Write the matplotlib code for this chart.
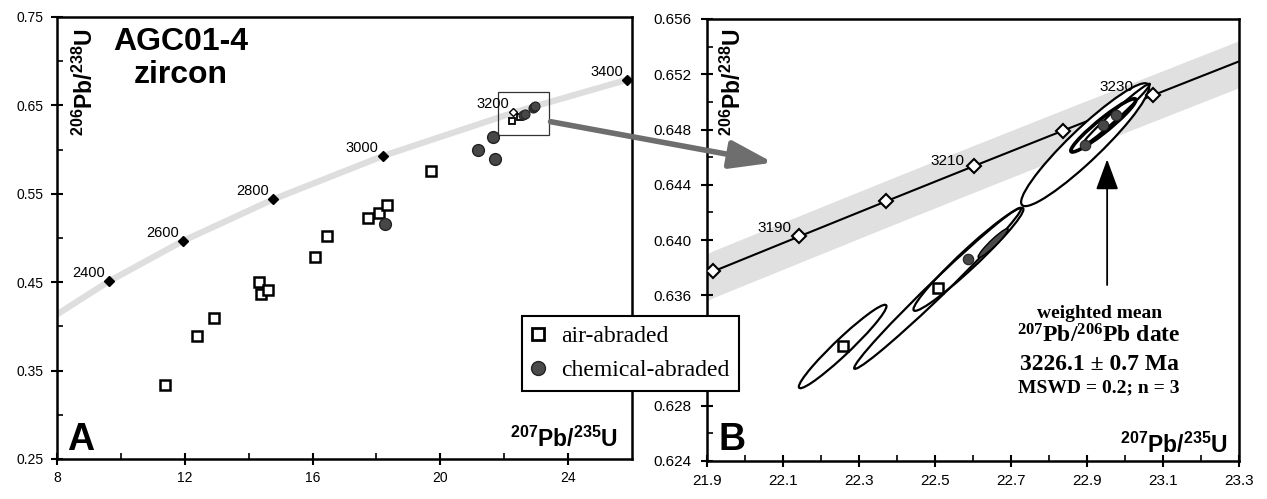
import numpy as np
import matplotlib
matplotlib.use('Agg')
import matplotlib.pyplot as plt
from matplotlib.patches import Ellipse, Rectangle, ConnectionPatch
from matplotlib.lines import Line2D

plt.rcParams['font.family'] = ['Liberation Sans', 'DejaVu Sans']
plt.rcParams['mathtext.fontset'] = 'custom'
plt.rcParams['mathtext.rm'] = 'Liberation Serif:bold'
plt.rcParams['mathtext.bf'] = 'Liberation Sans:bold'
plt.rcParams['mathtext.sf'] = 'Liberation Sans:bold'
plt.rcParams['mathtext.it'] = 'Liberation Serif:bold:italic'

# ---------------- data: panel A ----------------
concA_band_x = [8.0, 9.63, 11.95, 14.76, 18.19, 22.37, 26.0]
concA_band_y = [0.4136, 0.4511, 0.4968, 0.5436, 0.5926, 0.6428, 0.6806]
concA_ages = [2400, 2600, 2800, 3000, 3200, 3400]
concA_x = [9.63, 11.95, 14.76, 18.19, 22.29, 25.85]
concA_y = [0.4511, 0.4968, 0.5436, 0.5926, 0.6420, 0.679]

airA_x = [11.39, 12.38, 12.93, 14.31, 14.40, 14.62, 16.09, 16.45, 17.74, 18.07, 18.34, 19.72]
airA_y = [0.3337, 0.389, 0.4095, 0.450, 0.4363, 0.4412, 0.4789, 0.5023, 0.5223, 0.5286, 0.5373, 0.5761]
chemA_x = [18.28, 21.19, 21.66, 21.70]
chemA_y = [0.5158, 0.5995, 0.6143, 0.589]

zoom_box_x = [21.8, 23.4]
zoom_box_y = [0.616, 0.665]

# ---------------- data: panel B ----------------
concB_ages = [3180, 3190, 3200, 3210, 3220, 3230]
concB_x = [21.916, 22.143, 22.372, 22.603, 22.837, 23.073]
concB_y = [0.63772, 0.64026, 0.64281, 0.64536, 0.64792, 0.65047]
concB_end_x = [21.9, 23.3]
concB_end_y = [0.63749, 0.65293]
concB_labelled = [3190, 3210, 3230]

airB_x = [22.257, 22.507]
airB_y = [0.63229, 0.63650]
airB_hx = [0.1153, 0.2197]
airB_hy = [0.00302, 0.00583]
airB_rho = [0.965, 0.990]

chemB_x = [22.588, 22.653, 22.895, 22.943, 22.976]
chemB_y = [0.63860, 0.63978, 0.64690, 0.64830, 0.64907]
chemB_hx = [0.1447, 0.0395, 0.1684, 0.0855, 0.0895]
chemB_hy = [0.00373, 0.00105, 0.00445, 0.00193, 0.00224]
chemB_rho = [0.970, 0.950, 0.935, 0.950, 0.985]

mean_date_lines = ['weighted mean', r'${}^{207}\mathrm{Pb/}{}^{206}\mathrm{Pb\ date}$',
                   '3226.1 ± 0.7 Ma', 'MSWD = 0.2; n = 3']

arrow_from_A = (23.45, 0.6316)
arrow_to_B = (22.074, 0.6456)
mean_arrow_x = 22.953
mean_arrow_y = [0.63674, 0.64584]

# ---------------- figure ----------------
W, H = 1267, 499
fig = plt.figure(figsize=(W / 100, H / 100), dpi=100)
axA = fig.add_axes([57 / W, 40 / H, 575 / W, 442 / H])
axB = fig.add_axes([707 / W, 38 / H, 532 / W, 442 / H])

for ax in (axA, axB):
    for s in ax.spines.values():
        s.set_linewidth(1.8)
        s.set_color('black')

# ----- panel A -----
axA.set_xlim(8, 26)
axA.set_ylim(0.25, 0.75)
axA.set_xticks([8, 12, 16, 20, 24])
axA.set_xticks([10, 14, 18, 22], minor=True)
axA.set_yticks([0.25, 0.35, 0.45, 0.55, 0.65, 0.75])
axA.set_yticks([0.30, 0.40, 0.50, 0.60, 0.70], minor=True)
axA.yaxis.set_major_formatter('{x:.2f}')
axA.xaxis.set_major_formatter('{x:.0f}')
axA.tick_params(which='major', direction='inout', length=9, width=1.5, labelsize=10)
axA.tick_params(axis='y', which='major', pad=5.2)
axA.tick_params(axis='x', which='major', pad=4.5)
axA.tick_params(which='minor', direction='in', length=4, width=1.2)

axA.plot(concA_band_x, concA_band_y, color='#dedede', lw=4.5, solid_capstyle='butt', zorder=1)
for age, x, y in zip(concA_ages, concA_x, concA_y):
    if age == 3200:
        axA.plot([x], [y], 'D', ms=4.5, mfc='white', mec='black', mew=1.0, zorder=4)
    else:
        axA.plot([x], [y], 'D', ms=5, color='black', zorder=4)
    axA.annotate(str(age), (x, y), xytext=(-3, 3), textcoords='offset points',
                 ha='right', va='baseline', fontsize=10.5)

axA.plot(airA_x, airA_y, 's', ls='none', ms=7.5, mfc='white', mec='black', mew=1.8, zorder=3)
axA.plot(chemA_x, chemA_y, 'o', ls='none', ms=8.5, mfc='#474747', mec='#222222', mew=1.0, zorder=3)
axA.plot(airB_x, airB_y, 's', ls='none', ms=5, mfc='white', mec='black', mew=1.3, zorder=3)
axA.plot(chemB_x, chemB_y, 'o', ls='none', ms=6.5, mfc='#474747', mec='#222222', mew=0.8, zorder=3)
axA.add_patch(Rectangle((zoom_box_x[0], zoom_box_y[0]), zoom_box_x[1] - zoom_box_x[0],
                        zoom_box_y[1] - zoom_box_y[0], fill=False, lw=0.9, ec='#333333', zorder=2))

axA.text(0.2157, 0.925, 'AGC01-4', transform=axA.transAxes, ha='center', va='baseline',
         fontsize=23, fontweight='bold')
axA.text(0.2157, 0.851, 'zircon', transform=axA.transAxes, ha='center', va='baseline',
         fontsize=23, fontweight='bold')
axA.text(0.049, 0.975, r'$\mathbf{{}^{206}Pb/{}^{238}U}$', transform=axA.transAxes,
         rotation=90, ha='center', va='top', fontsize=16.5)
axA.text(0.976, 0.027, r'$\mathbf{{}^{207}Pb/{}^{235}U}$', transform=axA.transAxes,
         ha='right', va='baseline', fontsize=16.5)
axA.text(0.017, 0.02, 'A', transform=axA.transAxes, ha='left', va='baseline',
         fontsize=27, fontweight='bold')

# ----- panel B -----
axB.set_xlim(21.9, 23.3)
axB.set_ylim(0.624, 0.656)
axB.set_xticks(np.round(np.arange(21.9, 23.31, 0.2), 1))
axB.set_xticks(np.round(np.arange(22.0, 23.3, 0.2), 1), minor=True)
axB.set_yticks(np.round(np.arange(0.624, 0.6561, 0.004), 3))
axB.set_yticks(np.round(np.arange(0.626, 0.656, 0.004), 3), minor=True)
axB.yaxis.set_major_formatter('{x:.3f}')
axB.xaxis.set_major_formatter('{x:.1f}')
axB.tick_params(which='major', direction='inout', length=9, width=1.5, labelsize=11)
axB.tick_params(axis='y', which='major', pad=6.5)
axB.tick_params(axis='x', which='major', pad=5.2)
axB.tick_params(which='minor', direction='in', length=4, width=1.2)

line_x = [concB_end_x[0]] + concB_x + [concB_end_x[1]]
line_y = [concB_end_y[0]] + concB_y + [concB_end_y[1]]
axB.fill_between(line_x, np.array(line_y) - 0.0019, np.array(line_y) + 0.0015,
                 color='#e0e0e0', lw=0, zorder=0)
axB.plot(line_x, line_y, color='black', lw=1.5, zorder=1)


def ellipse(ax, cx, cy, hx, hy, rho, **kw):
    cov = np.array([[hx * hx, rho * hx * hy], [rho * hx * hy, hy * hy]])
    vals, vecs = np.linalg.eigh(cov)
    order = vals.argsort()[::-1]
    vals, vecs = vals[order], vecs[:, order]
    ang = np.degrees(np.arctan2(vecs[1, 0], vecs[0, 0]))
    e = Ellipse((cx, cy), 2 * np.sqrt(vals[0]), 2 * np.sqrt(vals[1]), angle=ang, **kw)
    ax.add_patch(e)
    return e


all_ell = list(zip(airB_x, airB_y, airB_hx, airB_hy, airB_rho)) + \
    list(zip(chemB_x, chemB_y, chemB_hx, chemB_hy, chemB_rho))
# white fills first, then outlines
for cx, cy, hx, hy, r in all_ell:
    ellipse(axB, cx, cy, hx, hy, r, fc='white', ec='none', zorder=3)
for i, (cx, cy, hx, hy, r) in enumerate(all_ell):
    if i == 3:  # small dark-filled chemical ellipse
        ellipse(axB, cx, cy, hx, hy, r, fc='#4a4a4a', ec='black', lw=1.0, zorder=4.5)
    elif i == 5:  # bold inner ellipse
        ellipse(axB, cx, cy, hx, hy, r, fc='none', ec='black', lw=2.6, zorder=4.4)
    else:
        ellipse(axB, cx, cy, hx, hy, r, fc='none', ec='black', lw=1.6, zorder=4)

axB.plot(concB_x, concB_y, 'D', ls='none', ms=7, mfc='white', mec='black', mew=1.5, zorder=4.2)
label_offsets = {3190: (-6, 3), 3210: (-7, 1), 3230: (-14, 3)}
for age, x, y in zip(concB_ages, concB_x, concB_y):
    if age in concB_labelled:
        axB.annotate(str(age), (x, y), xytext=label_offsets[age], textcoords='offset points',
                     ha='right', va='baseline', fontsize=11, zorder=5)

axB.plot(airB_x, airB_y, 's', ls='none', ms=7, mfc='white', mec='black', mew=1.8, zorder=5)
axB.plot([chemB_x[0]] + chemB_x[2:], [chemB_y[0]] + chemB_y[2:], 'o', ls='none', ms=7.5,
         mfc='#474747', mec='#222222', mew=0.8, zorder=5)

axB.annotate('', xy=(mean_arrow_x, mean_arrow_y[1]), xytext=(mean_arrow_x, mean_arrow_y[0]),
             arrowprops=dict(arrowstyle='-|>,head_length=1.9,head_width=0.7', lw=1.3,
                             color='black', mutation_scale=10, shrinkA=0, shrinkB=0),
             zorder=5)

fx = 0.737
axB.text(fx, 0.3235, mean_date_lines[0], transform=axB.transAxes, ha='center', va='baseline',
         fontsize=14, fontweight='bold', family='Liberation Serif')
axB.text(fx, 0.269, mean_date_lines[1], transform=axB.transAxes, ha='center', va='baseline',
         fontsize=17)
axB.text(fx, 0.206, mean_date_lines[2], transform=axB.transAxes, ha='center', va='baseline',
         fontsize=17, fontweight='bold', family='Liberation Serif')
axB.text(fx, 0.156, mean_date_lines[3], transform=axB.transAxes, ha='center', va='baseline',
         fontsize=14, fontweight='bold', family='Liberation Serif')

axB.text(0.049, 0.98, r'$\mathbf{{}^{206}Pb/{}^{238}U}$', transform=axB.transAxes,
         rotation=90, ha='center', va='top', fontsize=16.5)
axB.text(0.979, 0.018, r'$\mathbf{{}^{207}Pb/{}^{235}U}$', transform=axB.transAxes,
         ha='right', va='baseline', fontsize=16.5)
axB.text(0.021, 0.025, 'B', transform=axB.transAxes, ha='left', va='baseline',
         fontsize=27, fontweight='bold')

# ----- connecting arrow -----
con = ConnectionPatch(xyA=arrow_from_A, coordsA=axA.transData, xyB=arrow_to_B,
                      coordsB=axB.transData, arrowstyle='-|>,head_length=2.6,head_width=0.85',
                      mutation_scale=10, lw=4, color='#6e6e6e', zorder=6)
fig.add_artist(con)

# ----- legend -----
handles = [Line2D([], [], ls='none', marker='s', ms=9, mfc='white', mec='black', mew=2),
           Line2D([], [], ls='none', marker='o', ms=10, mfc='#4a4a4a', mec='#222222', mew=1)]
leg = fig.legend(handles, ['air-abraded', 'chemical-abraded'], loc='upper left',
                 bbox_to_anchor=(522 / W, 1 - 316 / H), bbox_transform=fig.transFigure,
                 borderaxespad=0, frameon=True, fancybox=False, edgecolor='black',
                 framealpha=1, prop={'family': 'Liberation Serif', 'size': 17},
                 handlelength=0.55, handletextpad=0.7, borderpad=0.4, labelspacing=0.55)
leg.get_frame().set_linewidth(1.5)

fig.savefig('out.png', dpi=100)
